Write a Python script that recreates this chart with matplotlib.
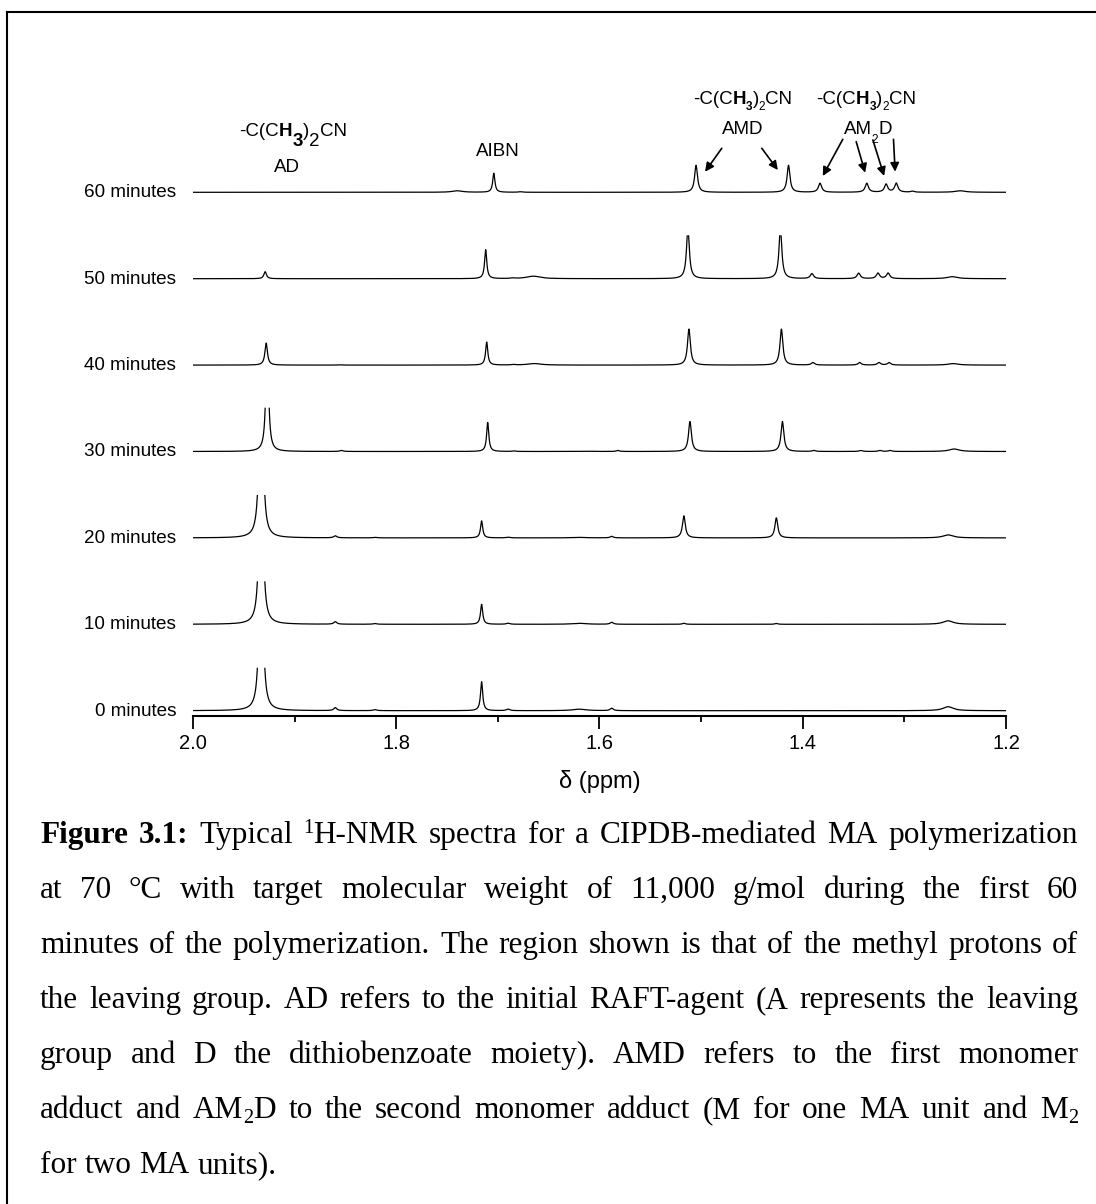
import re

import numpy as np
import matplotlib

matplotlib.use("Agg")
import matplotlib.pyplot as plt
from matplotlib.lines import Line2D
from matplotlib.ticker import MultipleLocator
from matplotlib.transforms import IdentityTransform

SANS = "Liberation Sans"
SERIF = "Liberation Serif"

# stacked 1H-NMR traces, bottom (0 min) to top (60 min)
TIMES = ["0 minutes", "10 minutes", "20 minutes", "30 minutes",
         "40 minutes", "50 minutes", "60 minutes"]
# small chemical-shift drift of each trace (ppm)
DRIFT = [0.0, 0.0, 0.0, -0.006, -0.005, -0.004, -0.012]

# peak table: position (ppm) and Lorentzian half width (ppm)
PEAK_PPM = np.array([1.933, 1.860, 1.821, 1.752, 1.716, 1.690, 1.669, 1.620,
                     1.588, 1.517, 1.426, 1.395, 1.349, 1.330, 1.320, 1.304,
                     1.257])
PEAK_GAMMA = np.array([0.0015, 0.0018, 0.002, 0.006, 0.0013, 0.002, 0.008,
                       0.008, 0.0018, 0.0017, 0.0017, 0.0019, 0.0019, 0.0019,
                       0.0019, 0.002, 0.006])
# peak heights per trace (same order as PEAK_PPM)
H_0 = [300, 3.0, 1.0, 0, 29, 1.5, 0, 1.5, 2.5, 0, 0, 0, 0, 0, 0, 0, 4.0]
H_10 = [300, 2.5, 0.7, 0, 20, 1.0, 0, 1.0, 2.0, 1.0, 0.8, 0, 0, 0, 0, 0, 3.5]
H_20 = [300, 2.0, 0.5, 0, 17, 0.7, 0, 0.5, 1.5, 22, 20, 0, 0, 0, 0, 0, 3.0]
H_30 = [120, 1.0, 0, 0, 29, 0.5, 0, 0.3, 1.0, 30, 30, 1.0, 1.0, 1.0, 1.0, 0, 2.5]
H_40 = [22, 0.3, 0, 0, 23, 0.5, 1.5, 0, 0, 36, 36, 2.5, 2.5, 2.5, 2.5, 0, 1.5]
H_50 = [7, 0, 0, 0, 29, 0.5, 2.5, 0, 0, 50, 50, 5.0, 5.5, 5.5, 5.5, 0, 2.0]
H_60 = [0, 0, 0, 1.5, 19, 0.5, 0, 0, 0, 27, 27, 9.0, 9.0, 8.0, 9.0, 1.0, 1.5]
HEIGHTS = [H_0, H_10, H_20, H_30, H_40, H_50, H_60]
CLIP = 44  # traces are cut off above this height

CAPTION = [
    "Figure 3.1: Typical ^1H-NMR spectra for a CIPDB-mediated MA polymerization",
    "at 70 °C with target molecular weight of 11,000 g/mol during the first 60",
    "minutes of the polymerization. The region shown is that of the methyl protons of",
    "the leaving group. AD refers to the initial RAFT-agent (A represents the leaving",
    "group and D the dithiobenzoate moiety). AMD refers to the first monomer",
    "adduct and AM_2D to the second monomer adduct (M for one MA unit and M_2",
    "for two MA units).",
]

W, H = 1096, 1204
fig = plt.figure(figsize=(W / 100, H / 100), dpi=100)
ax = fig.add_axes([193 / W, 1 - 716 / H, 813 / W, 676 / H])
ax.set_xlim(2.0, 1.2)
ax.set_ylim(0, 676)

offset0, step = 5.3, 86.4
ppm = np.linspace(2.0, 1.2, 8001)
for i, (label, heights) in enumerate(zip(TIMES, HEIGHTS)):
    y = np.zeros_like(ppm)
    for c, h, g in zip(PEAK_PPM + DRIFT[i], heights, PEAK_GAMMA):
        y += h * g ** 2 / ((ppm - c) ** 2 + g ** 2)
    y[y > CLIP] = np.nan
    base = offset0 + i * step
    ax.plot(ppm, y + base, color="black", lw=0.9)
    ax.annotate(label, xy=(2.0, base), xytext=(-17, -5),
                textcoords="offset pixels", ha="right", va="baseline",
                fontsize=13.6, family=SANS)

for side in ["left", "right", "top"]:
    ax.spines[side].set_visible(False)
ax.spines["bottom"].set_linewidth(1.5)
ax.set_yticks([])
ax.xaxis.set_major_locator(MultipleLocator(0.2))
ax.xaxis.set_minor_locator(MultipleLocator(0.1))
ax.tick_params(axis="x", which="major", direction="out", length=9, width=1.3,
               pad=4, labelsize=14.5)
ax.tick_params(axis="x", which="minor", direction="out", length=4.5, width=1.3)
for lab in ax.get_xticklabels():
    lab.set_family(SANS)
ax.set_xlabel("δ (ppm)", fontsize=17, family=SANS, labelpad=12)

fig.canvas.draw()
renderer = fig.canvas.get_renderer()
px = IdentityTransform()


def run_width(text, size, weight, family):
    t = fig.text(0, 0, text, fontsize=size, fontweight=weight, family=family,
                 transform=px)
    w = t.get_window_extent(renderer=renderer).width
    t.remove()
    return w


def draw_runs(x, y, runs, family=SANS, center=True):
    # runs: (text, size, weight, dy in pixels)
    widths = [run_width(t, s, wt, family) for t, s, wt, _ in runs]
    start = x - sum(widths) / 2 if center else x
    for (t, s, wt, dy), w in zip(runs, widths):
        fig.text(start, y + dy, t, fontsize=s, fontweight=wt, family=family,
                 transform=px, ha="left", va="baseline")
        start += w


def at(ppm_x, y_data):
    return ax.transData.transform((ppm_x, y_data))


# peak assignments
fs, sub = 13.5, 8.5
draw_runs(*at(1.9016, 580), [("-C(C", fs, "normal", 0), ("H", fs, "bold", 0),
                             ("3", fs, "bold", -10.5), (")", fs, "normal", 0),
                             ("2", fs, "normal", -10.5), ("CN", fs, "normal", 0)])
draw_runs(*at(1.9075, 544), [("AD", fs, "normal", 0)])
draw_runs(*at(1.6998, 560), [("AIBN", fs, "normal", 0)])
for xc in (1.4592, 1.3376):
    draw_runs(*at(xc, 612), [("-C(C", fs, "normal", 0), ("H", fs, "bold", 0),
                             ("3", sub, "bold", -5.5), (")", fs, "normal", 0),
                             ("2", sub, "normal", -5.5), ("CN", fs, "normal", 0)])
draw_runs(*at(1.4592, 582), [("AMD", fs, "normal", 0)])
draw_runs(*at(1.3361, 582), [("AM", fs, "normal", 0), ("2", sub, "normal", -9),
                             ("D", fs, "normal", 0)])

arrows = [((1.4797, 567.7), (1.4961, 544.3)), ((1.4403, 567.7), (1.4245, 546)),
          ((1.3606, 576.7), (1.3803, 540)), ((1.3474, 574.3), (1.3386, 543.3)),
          ((1.3310, 576), (1.3199, 540)), ((1.3107, 576.7), (1.3091, 544.3))]
for tail, head in arrows:
    ax.annotate("", xy=head, xytext=tail,
                arrowprops=dict(arrowstyle="-|>", color="black", lw=1.2,
                                mutation_scale=13, shrinkA=0, shrinkB=0))

# justified caption
cap_size = 22.5
space_w = run_width("a a", cap_size, "normal", SERIF) - run_width("aa", cap_size, "normal", SERIF)


def word_runs(word, bold):
    runs = []
    for piece in re.split(r"([\^_]\d)", word):
        if not piece:
            continue
        if piece[0] == "^":
            runs.append((piece[1], cap_size * 0.65, "normal", 10))
        elif piece[0] == "_":
            runs.append((piece[1], cap_size * 0.65, "normal", -5))
        else:
            runs.append((piece, cap_size, "bold" if bold else "normal", 0))
    return runs


x_left, x_right = 40, 1078
for n, line in enumerate(CAPTION):
    words = line.split(" ")
    runs = [word_runs(w, n == 0 and k < 2) for k, w in enumerate(words)]
    widths = [sum(run_width(t, s, wt, SERIF) for t, s, wt, _ in r) for r in runs]
    if n < len(CAPTION) - 1:
        gap = (x_right - x_left - sum(widths)) / (len(words) - 1)
    else:
        gap = space_w
    x = x_left
    y = H - (843 + n * 55)
    for r, w in zip(runs, widths):
        draw_runs(x, y, r, family=SERIF, center=False)
        x += w + gap

# frame
fig.add_artist(Line2D([7, 7], [0, H - 12], transform=px, color="black", lw=1.5))
fig.add_artist(Line2D([7, W], [H - 12, H - 12], transform=px, color="black", lw=1.5))

fig.savefig("out.png", dpi=100)
